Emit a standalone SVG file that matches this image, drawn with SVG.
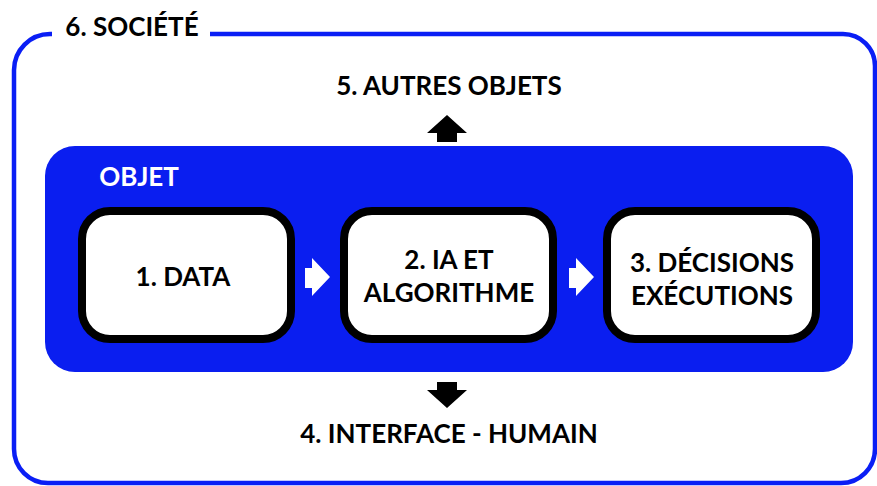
<svg xmlns="http://www.w3.org/2000/svg" width="877" height="486" viewBox="0 0 877 486">
<style>
.t{font-family:Lato,"Open Sans","Liberation Sans",sans-serif;font-weight:bold;font-size:26px;fill:#000;text-anchor:middle}
.w{fill:#fff}
.box{fill:#fff;stroke:#000;stroke-width:8}
.arr{fill:#000}
.warr{fill:#fff}
</style>
<rect width="877" height="486" fill="#fff"/>
<g id="societe">
<path d="M52,34 L50,34 A36,36 0 0 0 14,70 L14,449 A34,34 0 0 0 48,483 L841,483 A34,34 0 0 0 875,449 L875,66 A32,32 0 0 0 843,34 L210,34" fill="none" stroke="#0a1ef5" stroke-width="4.5"/>
<text class="t" x="132" y="36">6. SOCIÉTÉ</text>
</g>
<g id="objet">
<rect x="45" y="146" width="808" height="226" rx="30" fill="#0a1ef0"/>
<text class="t w" x="139" y="186">OBJET</text>
</g>
<g id="data">
<rect class="box" x="82" y="211" width="209" height="128" rx="28"/>
<text class="t" x="183" y="286">1. DATA</text>
</g>
<g id="ia">
<rect class="box" x="344" y="211" width="209" height="128" rx="28"/>
<text class="t" x="449" y="269">2. IA ET</text>
<text class="t" x="449" y="302">ALGORITHME</text>
</g>
<g id="decisions">
<rect class="box" x="607" y="211" width="209" height="128" rx="28"/>
<text class="t" x="712" y="272">3. DÉCISIONS</text>
<text class="t" x="712" y="305">EXÉCUTIONS</text>
</g>
<g id="autres">
<text class="t" x="449" y="95">5. AUTRES OBJETS</text>
</g>
<g id="interface">
<text class="t" x="449" y="443">4. INTERFACE - HUMAIN</text>
</g>
<g id="connectors">
<polygon class="warr" points="305,268 312,268 312,258 330,277 312,296 312,288 305,288"/>
<polygon class="warr" points="569,268 576,268 576,258 594,277 576,296 576,288 569,288"/>
<polygon class="arr" points="437,142 437,133 427,133 447,115 467,133 457,133 457,142"/>
<polygon class="arr" points="437,382 457,382 457,390 467,390 447,408 427,390 437,390"/>
</g>
</svg>
